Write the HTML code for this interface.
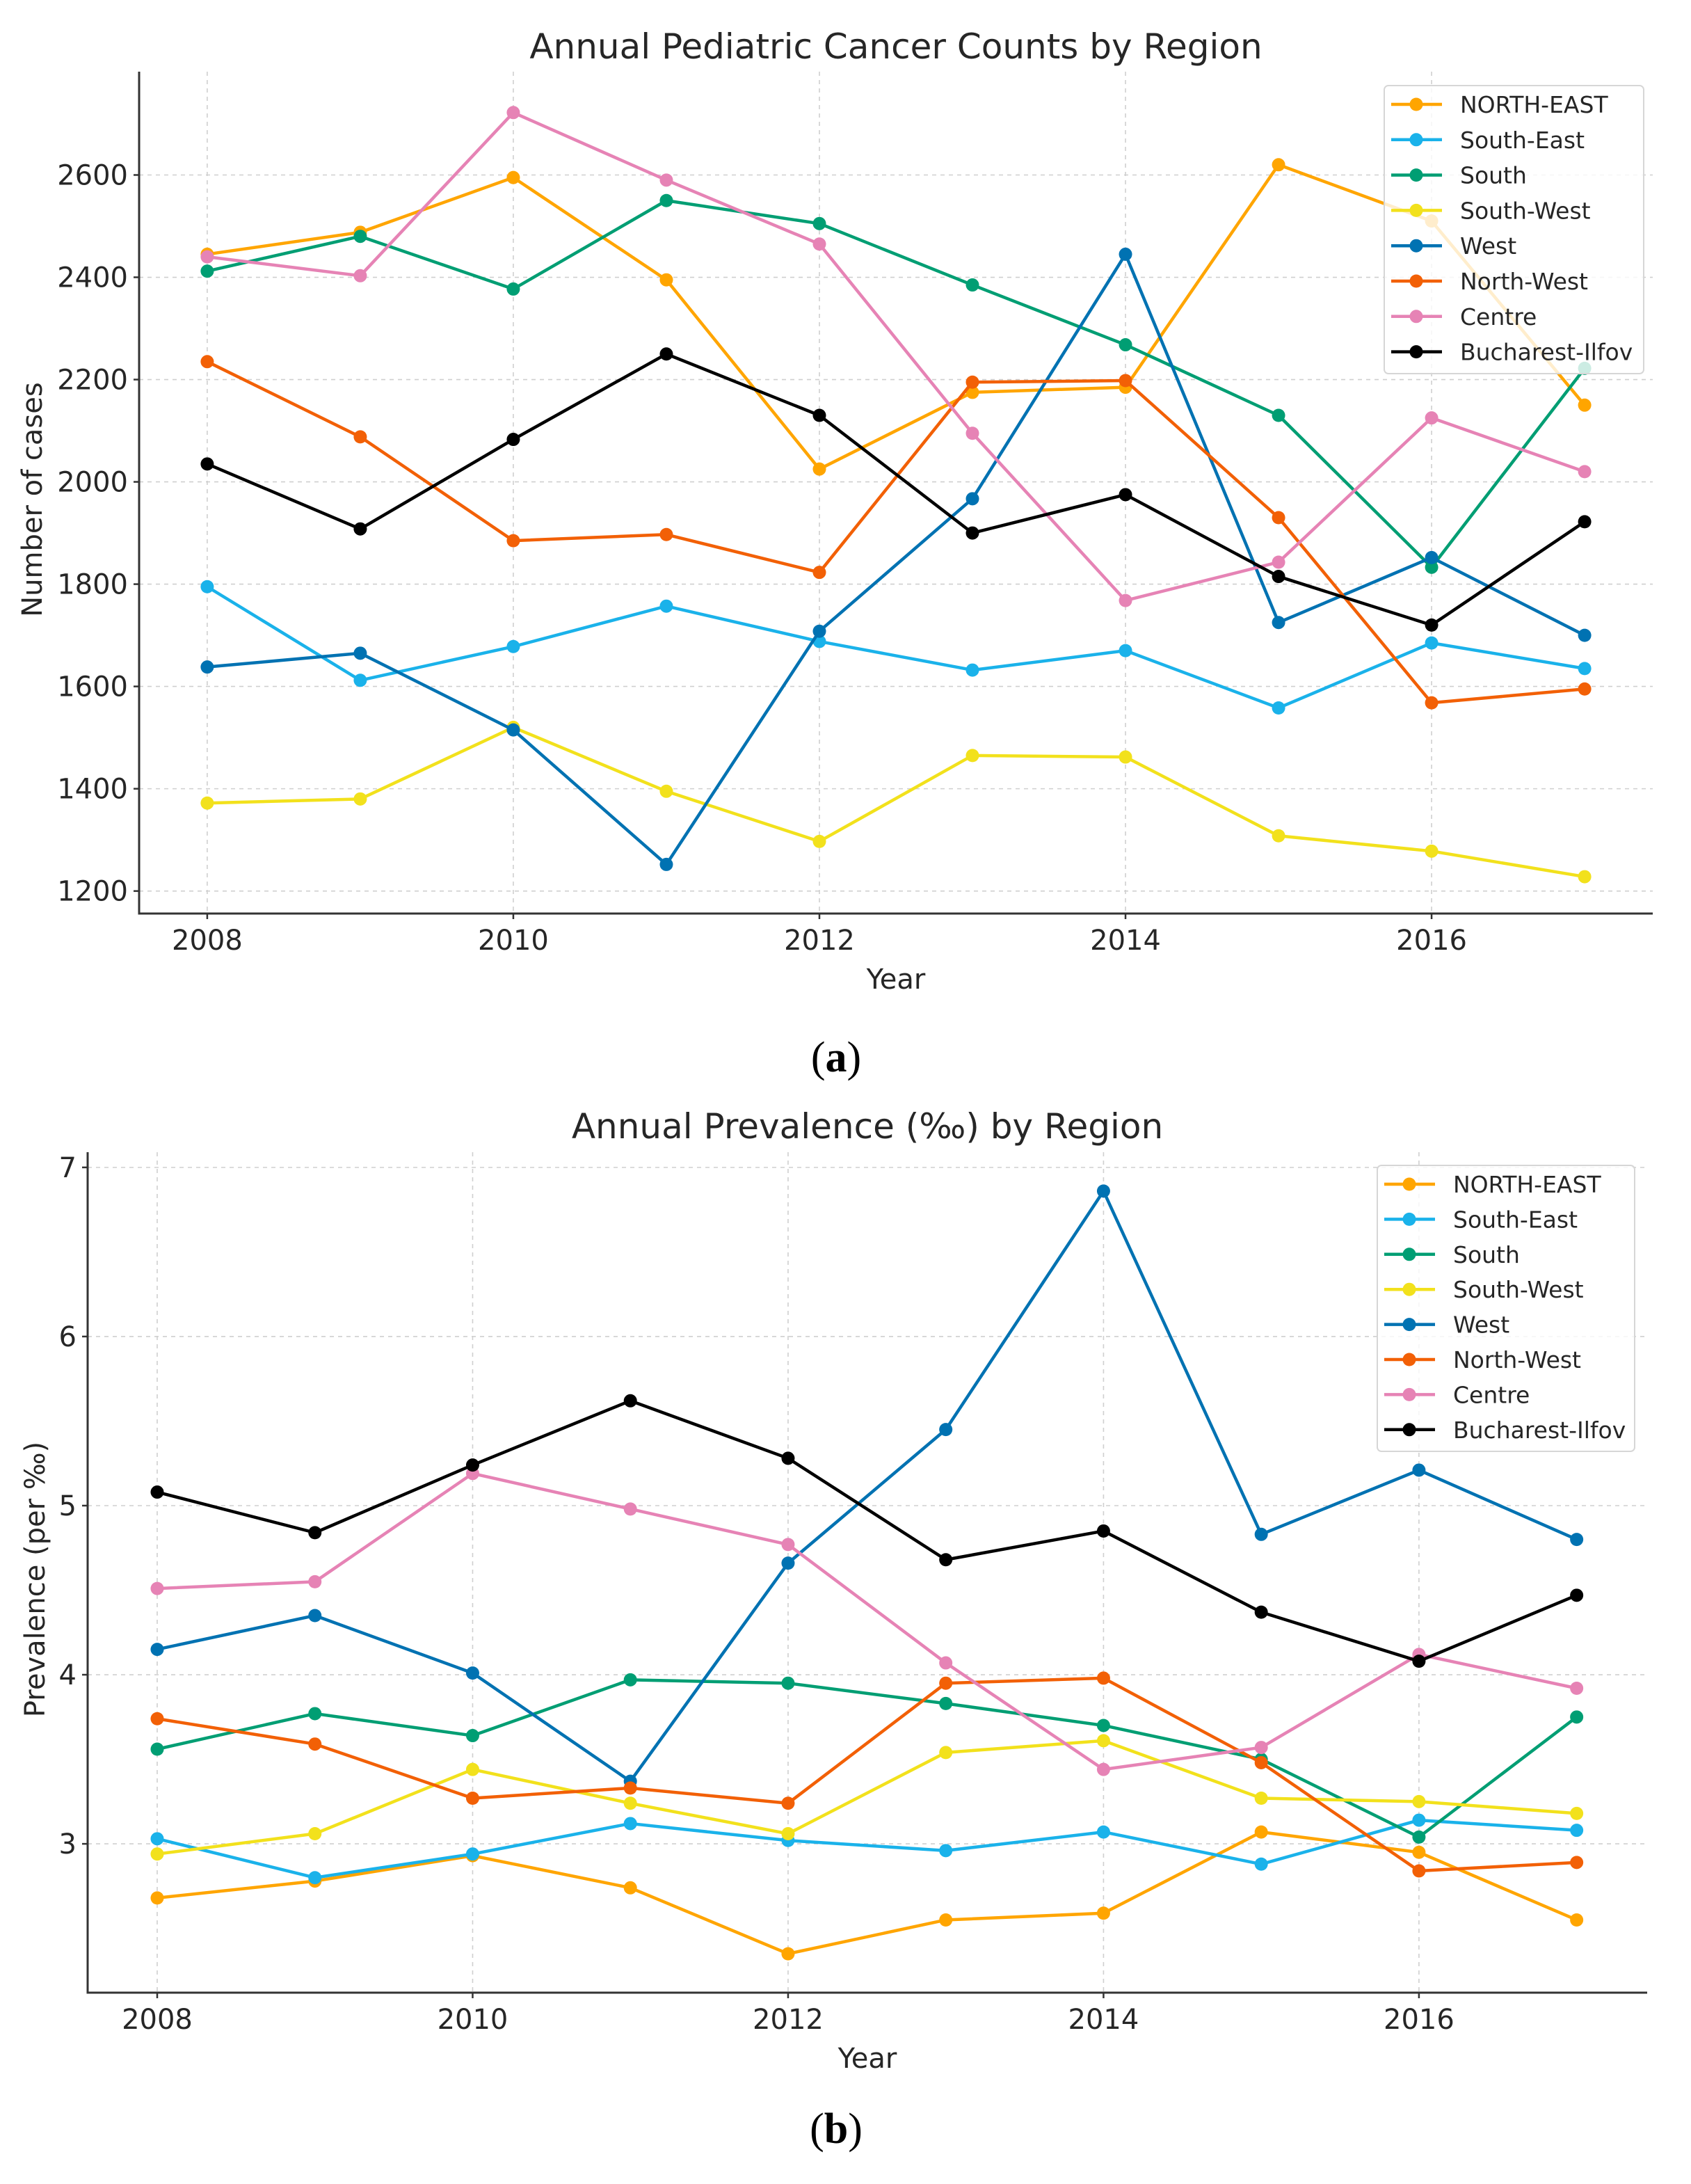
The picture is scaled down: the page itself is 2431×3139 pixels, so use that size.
<!DOCTYPE html>
<html><head><meta charset="utf-8"><style>
html,body{margin:0;padding:0;background:#fff;}
svg{display:block;}
text{font-family:"DejaVu Sans","Liberation Sans",sans-serif;fill:#262626;}
</style></head><body>
<svg id="fig" width="2431" height="3139" viewBox="0 0 2431 3139" xmlns="http://www.w3.org/2000/svg">
<rect width="2431" height="3139" fill="#fff"/>
</svg>
<script>
const years=[2008,2009,2010,2011,2012,2013,2014,2015,2016,2017];
const regions=["NORTH-EAST","South-East","South","South-West","West","North-West","Centre","Bucharest-Ilfov"];
const colors=["#ffa500","#1ab2ea","#009e73","#f2e11c","#0072b2","#f26006","#e683b5","#000000"];
const countsNE=[2445,2488,2595,2395,2025,2175,2185,2620,2510,2150];
const countsSE=[1795,1612,1678,1757,1688,1632,1670,1558,1685,1635];
const countsS=[2412,2480,2377,2550,2505,2385,2268,2130,1833,2222];
const countsSW=[1372,1380,1520,1395,1297,1465,1462,1308,1278,1228];
const countsW=[1638,1665,1515,1252,1708,1967,2445,1725,1852,1700];
const countsNW=[2235,2088,1885,1897,1823,2195,2198,1930,1568,1595];
const countsC=[2440,2403,2722,2590,2465,2095,1768,1843,2125,2020];
const countsB=[2035,1908,2083,2250,2130,1900,1975,1815,1720,1922];
const prevNE=[2.68,2.78,2.93,2.74,2.35,2.55,2.59,3.07,2.95,2.55];
const prevSE=[3.03,2.80,2.94,3.12,3.02,2.96,3.07,2.88,3.14,3.08];
const prevS=[3.56,3.77,3.64,3.97,3.95,3.83,3.70,3.50,3.04,3.75];
const prevSW=[2.94,3.06,3.44,3.24,3.06,3.54,3.61,3.27,3.25,3.18];
const prevW=[4.15,4.35,4.01,3.37,4.66,5.45,6.86,4.83,5.21,4.80];
const prevNW=[3.74,3.59,3.27,3.33,3.24,3.95,3.98,3.48,2.84,2.89];
const prevC=[4.51,4.55,5.19,4.98,4.77,4.07,3.44,3.57,4.12,3.92];
const prevB=[5.08,4.84,5.24,5.62,5.28,4.68,4.85,4.37,4.08,4.47];
const xTicks=[2008,2010,2012,2014,2016];
const yTicksA=[1200,1400,1600,1800,2000,2200,2400,2600];
const yTicksB=[3,4,5,6,7];

const NS="http://www.w3.org/2000/svg";
const svg=document.getElementById('fig');
function el(tag,attrs,parent){const e=document.createElementNS(NS,tag);for(const k in attrs)e.setAttribute(k,attrs[k]);(parent||svg).appendChild(e);return e;}

function chart(cfg){
  const g=el('g',{});
  
  
  const X=v=>cfg.L+(v-cfg.x0)/(cfg.x1-cfg.x0)*(cfg.R-cfg.L);
  const Y=v=>cfg.B-(v-cfg.y0)/(cfg.y1-cfg.y0)*(cfg.B-cfg.T);
  // grid
  xTicks.forEach(t=>{const l=el('line',{x1:X(t),x2:X(t),y1:cfg.T,y2:cfg.B,stroke:'#cfcfcf','stroke-width':1.6,'stroke-dasharray':'6,6'},g);
    });
  cfg.yTicks.forEach(t=>{const l=el('line',{x1:cfg.L,x2:cfg.R,y1:Y(t),y2:Y(t),stroke:'#cfcfcf','stroke-width':1.6,'stroke-dasharray':'6,6'},g);
    });
  // axes
  const ax=el('path',{d:`M${cfg.L},${cfg.T}V${cfg.B}H${cfg.R}`,fill:'none',stroke:'#333','stroke-width':3},g);
  
  xTicks.forEach(t=>{el('line',{x1:X(t),x2:X(t),y1:cfg.B,y2:cfg.B+8,stroke:'#333','stroke-width':2.5},g);
    const tx=el('text',{x:X(t),y:cfg.B+52,'text-anchor':'middle','font-size':40},g);tx.textContent=t;
    });
  cfg.yTicks.forEach(t=>{el('line',{x1:cfg.L-8,x2:cfg.L,y1:Y(t),y2:Y(t),stroke:'#333','stroke-width':2.5},g);
    const tx=el('text',{x:cfg.L-16,y:Y(t)+14,'text-anchor':'end','font-size':40},g);tx.textContent=t;
    });
  // series
  cfg.series.forEach((s,i)=>{
    const sg=el('g',{},g);
    
    
    const pts=s.map((v,j)=>X(years[j])+','+Y(v)).join(' ');
    el('polyline',{points:pts,fill:'none',stroke:colors[i],'stroke-width':4.5,'stroke-linejoin':'round'},sg);
    s.forEach((v,j)=>{const c=el('circle',{cx:X(years[j]),cy:Y(v),r:9.5,fill:colors[i]},sg);
      });
  });
  // legend
  const lg=el('g',{},g);
  
  el('rect',{x:cfg.lx,y:cfg.ly,width:cfg.lw,height:cfg.lh,rx:6,fill:'#fff','fill-opacity':0.8,stroke:'#d6d6d6','stroke-width':2},lg);
  regions.forEach((r,i)=>{
    const y=cfg.ly+27+i*cfg.lsp;
    const e=el('g',{},lg);
    
    el('line',{x1:cfg.lx+10,x2:cfg.lx+83,y1:y,y2:y,stroke:colors[i],'stroke-width':4.5},e);
    el('circle',{cx:cfg.lx+46,cy:y,r:9.5,fill:colors[i]},e);
    const t=el('text',{x:cfg.lx+109,y:y+12,'font-size':33},e);t.textContent=r;
  });
  // titles
  const ti=el('text',{x:(cfg.L+cfg.R)/2,y:cfg.titleY,'text-anchor':'middle','font-size':50,fill:'#333'},g);ti.textContent=cfg.title;
  
  const xl=el('text',{x:(cfg.L+cfg.R)/2,y:cfg.B+108,'text-anchor':'middle','font-size':40},g);xl.textContent='Year';
  
  const yl=el('text',{x:0,y:0,'text-anchor':'middle','font-size':40,transform:`translate(${cfg.ylx},${(cfg.T+cfg.B)/2+10}) rotate(-90)`},g);yl.textContent=cfg.ytitle;
  
  const cap=el('text',{x:1202,y:cfg.capY,'text-anchor':'middle','font-size':62,style:'font-family:"Liberation Serif",serif;fill:#000'},g);
  cap.innerHTML='(<tspan font-weight="bold">'+cfg.cap+'</tspan>)';
  
}
chart({name:'chart-counts',L:200,R:2376,T:103,B:1313,x0:2007.555,x1:2017.445,y0:1156,y1:2802,yTicks:yTicksA,
  series:[countsNE,countsSE,countsS,countsSW,countsW,countsNW,countsC,countsB],
  lx:1990,ly:123,lw:373,lh:414,lsp:50.8,title:'Annual Pediatric Cancer Counts by Region',titleY:84,
  ytitle:'Number of cases',ylx:60,capY:1540,cap:'a'});
chart({name:'chart-prevalence',L:126,R:2368,T:1656,B:2864,x0:2007.559,x1:2017.447,y0:2.12,y1:7.09,yTicks:yTicksB,
  series:[prevNE,prevSE,prevS,prevSW,prevW,prevNW,prevC,prevB],
  lx:1980,ly:1675,lw:370,lh:411,lsp:50.4,title:'Annual Prevalence (‰) by Region',titleY:1636,
  ytitle:'Prevalence (per ‰)',ylx:64,capY:3080,cap:'b'});
</script>
</body></html>
